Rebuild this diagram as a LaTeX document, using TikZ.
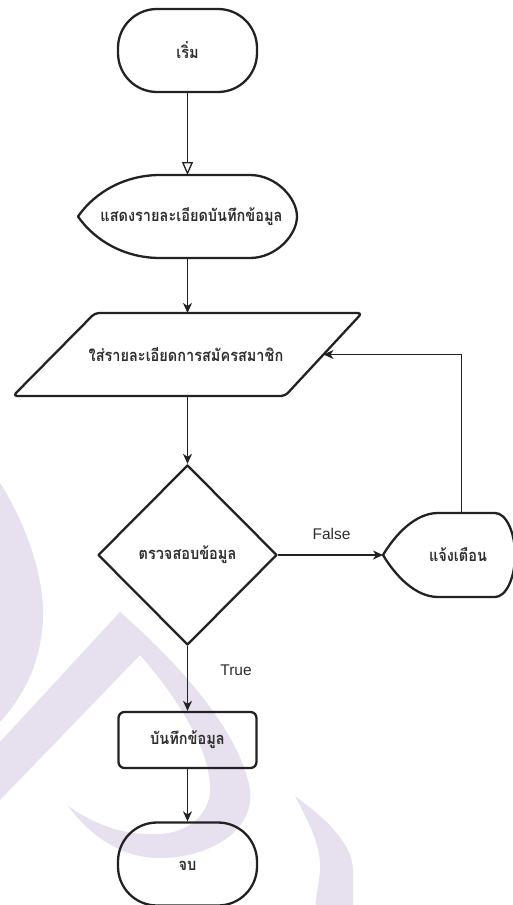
\documentclass[tikz,border=0pt]{standalone}
\usepackage{fontspec}
\usetikzlibrary{shapes.geometric,arrows.meta}
\newfontfamily\thaifont[Script=Thai, FakeStretch=0.88]{Loma}
\newfontfamily\latinfont{Liberation Sans}
\definecolor{inkline}{HTML}{222222}
\definecolor{inktext}{HTML}{2E2E2E}
\definecolor{wash}{HTML}{E6E0EF}

\tikzset{
  outline/.style={draw=inkline, line width=2.3pt, line join=round},
  terminal/.style={outline, rectangle, rounded corners=39pt, minimum width=139pt, minimum height=83pt, inner sep=0pt},
  procbox/.style={outline, rectangle, rounded corners=6pt, minimum width=138pt, minimum height=56pt, inner sep=0pt},
  decision/.style={outline, diamond, minimum width=179pt, minimum height=180pt, inner sep=0pt},
  frame/.style={rectangle, draw=none, inner sep=0pt, outer sep=0pt},
  thailabel/.style={text=inktext, font=\thaifont\bfseries\fontsize{16.5}{19}\selectfont, inner sep=0pt},
  edgelabel/.style={text=inktext, font=\latinfont\fontsize{15.5}{18}\selectfont, inner sep=0pt},
  flow/.style={draw=inkline, line width=1.3pt, -{Stealth[length=10pt, width=9pt, inset=3pt]}},
  openflow/.style={draw=inkline, line width=1.3pt, -{Triangle[open, length=13pt, width=11pt, fill=white]}}
}

\begin{document}
\begin{tikzpicture}[x=1pt, y=-1pt]
  \useasboundingbox (0,0) rectangle (512,905);
  \fill[white] (0,0) rectangle (512,905);

  % faint lavender brush mark in the background
  \begin{scope}
    \clip (0,0) rectangle (512,905);
    \fill[wash] (0,483) .. controls (30,530) and (48,590) .. (42,630)
      .. controls (38,670) and (20,700) .. (0,722) -- cycle;
    \fill[wash] (0,742) -- (120,612)
      .. controls (175,660) and (240,730) .. (250,790)
      .. controls (255,830) and (210,858) .. (160,858)
      .. controls (120,858) and (90,835) .. (68,806)
      .. controls (95,825) and (125,836) .. (160,834)
      .. controls (195,832) and (212,808) .. (210,785)
      .. controls (208,745) and (175,695) .. (140,655)
      -- (0,800) -- cycle;
    \fill[wash] (295,796) .. controls (320,815) and (352,840) .. (353,870)
      -- (353,910) -- (315,910)
      .. controls (316,895) and (319,885) .. (320,870)
      .. controls (322,845) and (305,815) .. (295,796) -- cycle;
  \end{scope}

  % nodes
  \node[terminal] (start) at (187.5,50.5) {};
  \node[thailabel] at (start.center) {เริ่ม};

  \node[frame, minimum width=219pt, minimum height=83pt] (disp) at (187.5,216.5) {};
  \draw[outline] (78,216.5) .. controls (95,192) and (125,175) .. (160,175) -- (250,175)
    .. controls (276,175) and (297,198) .. (297,216.5)
    .. controls (297,235) and (276,258) .. (250,258) -- (160,258)
    .. controls (125,258) and (95,241) .. (78,216.5) -- cycle;
  \node[thailabel] at (191.5,216.5) {แสดงรายละเอียดบันทึกข้อมูล};

  \node[frame, minimum width=349pt, minimum height=83pt] (para) at (187.5,354.5) {};
  \draw[outline, rounded corners=4pt] (95,313) -- (362,313) -- (285,396) -- (13,396) -- cycle;
  \node[thailabel] at (186,354.5) {ใส่รายละเอียดการสมัครสมาชิก};
  \coordinate (parain) at (323.5,354.5);

  \node[decision] (dec) at (187.5,555) {};
  \node[thailabel] at (dec.center) {ตรวจสอบข้อมูล};

  \node[frame, minimum width=132pt, minimum height=84pt] (warn) at (449,555) {};
  \draw[outline] (383,555) .. controls (395,535) and (415,513) .. (438,513) -- (495,513)
    .. controls (506,513) and (515,532) .. (515,555)
    .. controls (515,578) and (506,597) .. (495,597) -- (438,597)
    .. controls (415,597) and (395,575) .. (383,555) -- cycle;
  \node[thailabel] at (458,555) {แจ้งเตือน};
  \coordinate (warntop) at (461.5,513);

  \node[procbox] (save) at (187.5,740) {};
  \node[thailabel] at (save.center) {บันทึกข้อมูล};

  \node[terminal] (stop) at (187.5,864) {};
  \node[thailabel] at (187.5,866) {จบ};

  % connectors
  \draw[openflow] (start.south) -- (disp.north);
  \draw[flow] (disp.south) -- (para.north);
  \draw[flow] (para.south) -- (dec.north);
  \draw[flow] (dec.east) -- (warn.west);
  \node[edgelabel] (falselbl) at (331.5,534) {False};
  \draw[flow] (warntop) |- (parain);
  \draw[flow] (dec.south) -- (save.north);
  \node[edgelabel] (truelbl) at (236,670) {True};
  \draw[flow] (save.south) -- (stop.north);
\end{tikzpicture}
\end{document}
